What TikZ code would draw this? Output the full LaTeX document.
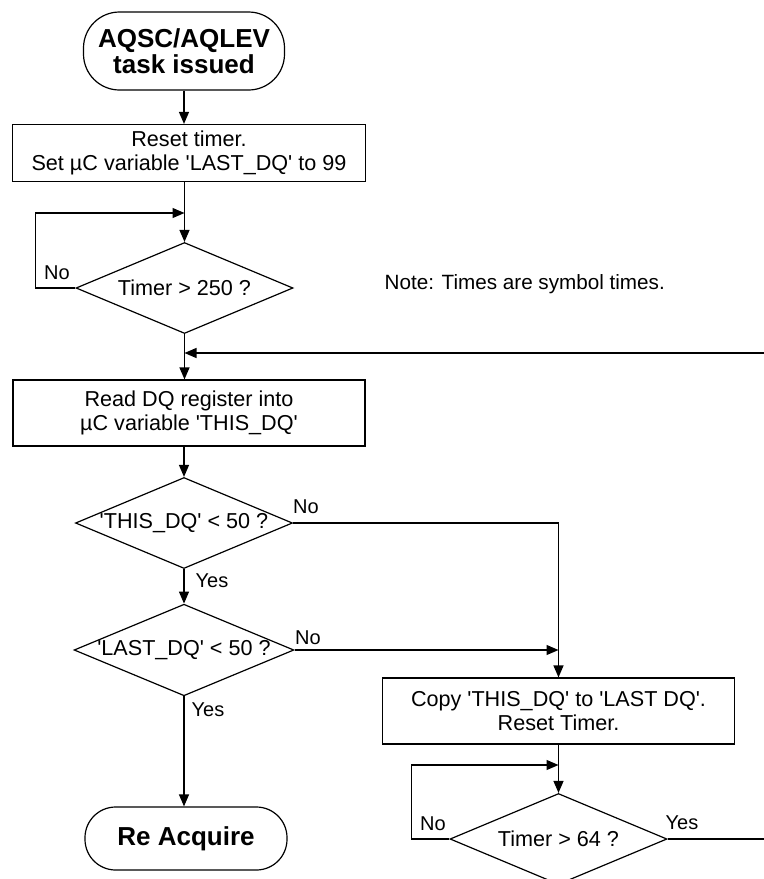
\documentclass[tikz,border=0pt]{standalone}
\usepackage{fontspec}
\setmainfont{Liberation Sans}
\usetikzlibrary{shapes.geometric,arrows.meta}
\newcommand{\squote}{\textquotesingle}

\begin{document}
\begin{tikzpicture}[x=0.75pt, y=-0.75pt, line width=0.9pt,
    txt/.style={font=\fontsize{16.2}{17.5}\selectfont},
    terminal/.style={draw, rectangle, align=center, inner sep=0pt,
      font=\fontsize{19.5}{19.5}\selectfont\bfseries},
    procbox/.style={draw, rectangle, align=center, inner sep=0pt, txt},
    decision/.style={draw, diamond, aspect=2.4, inner sep=0pt,
      minimum width=162.75pt, minimum height=68.25pt, txt},
    lbl/.style={inner sep=0pt, font=\fontsize{15}{17}\selectfont},
    flow/.style={-{Triangle[length=9pt,width=7.5pt]}}]
  \clip (0,0) rectangle (764,879);

  % left column
  \node[terminal, rounded corners=27pt, minimum width=150.75pt, minimum height=58.5pt]
    (start) at (184,51) {AQSC/AQLEV\\task issued};
  \node[procbox, minimum width=264.75pt, minimum height=42.75pt]
    (reset) at (189,153) {Reset timer.\\Set µC variable \squote LAST\_DQ\squote{} to 99};
  \node[decision] (wait) at (184.5,288) {Timer > 250 ?};
  \node[procbox, minimum width=264pt, minimum height=49.5pt]
    (readdq) at (189,413) {Read DQ register into\\µC variable \squote THIS\_DQ\squote};
  \node[decision] (thislow) at (184,523) {\squote THIS\_DQ\squote{} < 50 ?};
  \node[decision] (lastlow) at (184,650) {\squote LAST\_DQ\squote{} < 50 ?};
  \node[terminal, rounded corners=23pt, minimum width=151.5pt, minimum height=47.25pt]
    (reacq) at (186,838.5) {Re Acquire};

  % right column
  \node[procbox, minimum width=264pt, minimum height=49.5pt]
    (copy) at (558.5,711) {Copy \squote THIS\_DQ\squote{} to \squote LAST DQ\squote.\\Reset Timer.};
  \node[decision] (wait64) at (558.5,839) {Timer > 64 ?};

  \node[inner sep=0pt, font=\fontsize{15.5}{17}\selectfont, anchor=west]
    (note) at (384,284) {Note: Times are symbol times.};

  \coordinate (loopin) at (184.5,213);
  \coordinate (loopin64) at (558.5,765);
  \coordinate (back) at (764,353);
  \coordinate (join) at (184.5,353);
  \coordinate (out64) at (764,839);

  \draw[flow] (start.south) -- (start.south |- reset.north);
  \draw[flow] (reset.south -| wait.north) -- (wait.north);
  \draw[flow] (wait.west) -- ++(-40,0) |- (loopin);
  \draw (wait.south) -- (join);
  \draw[flow] (back) -- (join);
  \draw[flow] (join) -- (join |- readdq.north);
  \draw[flow] (readdq.south -| thislow.north) -- (thislow.north);
  \draw[flow] (thislow.east) -| (copy.north);
  \draw[flow] (thislow.south) -- (lastlow.north);
  \draw[flow] (lastlow.east) -- (lastlow.east -| copy.north);
  \draw[flow] (lastlow.south) -- (lastlow.south |- reacq.north);
  \draw[flow] (copy.south) -- (wait64.north);
  \draw[flow] (wait64.west) -- ++(-38,0) |- (loopin64);
  \draw (wait64.east) -- (out64);

  \node[lbl] (nowait) at (57,273) {No};
  \node[lbl] (nothis) at (306,507) {No};
  \node[lbl] (yesthis) at (212,581) {Yes};
  \node[lbl] (nolast) at (308,638) {No};
  \node[lbl] (yeslast) at (208,710) {Yes};
  \node[lbl] (nowait64) at (433,824) {No};
  \node[lbl] (yeswait64) at (682,823) {Yes};
\end{tikzpicture}
\end{document}
